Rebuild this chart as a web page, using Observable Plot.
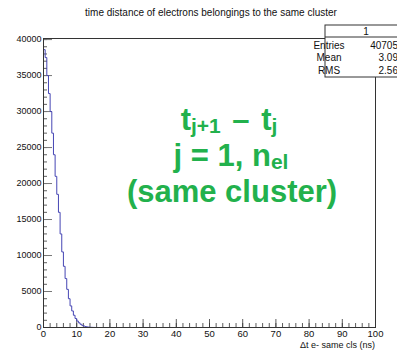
<!DOCTYPE html>
<html><head><meta charset="utf-8">
<script src="https://cdn.jsdelivr.net/npm/d3@7"></script>
<script src="https://cdn.jsdelivr.net/npm/@observablehq/plot@0.6"></script>
<style>body{margin:0;background:#fff} svg{display:block}</style>
</head><body><div id="chart"></div>
<script>
const title = "time distance of electrons belongings to the same cluster";
const xLabel = "\u0394t e- same cls (ns)";
// histogram bins (0.5 ns wide), start of each bin and counts
const binStarts = [0,0.5,1,1.5,2,2.5,3,3.5,4,4.5,5,5.5,6,6.5,7,7.5,8,8.5,9,9.5,10,10.5,11,11.5,12,12.5,13,13.5,14,14.5,15,15.5,16];
const counts = [38600,37500,35000,32500,30000,27000,24000,21000,18500,16000,13000,10500,8500,6800,5300,4000,3000,2300,1700,1250,900,650,450,300,200,130,80,50,30,18,10,5,2];
const binWidth = 0.5;
const xTicks = [0,10,20,30,40,50,60,70,80,90,100];
const xMinor = [0,2,4,6,8,10,12,14,16,18,20,22,24,26,28,30,32,34,36,38,40,42,44,46,48,50,52,54,56,58,60,62,64,66,68,70,72,74,76,78,80,82,84,86,88,90,92,94,96,98,100];
const yTicks = [0,5000,10000,15000,20000,25000,30000,35000,40000];
const yMinor = [0,1000,2000,3000,4000,5000,6000,7000,8000,9000,10000,11000,12000,13000,14000,15000,16000,17000,18000,19000,20000,21000,22000,23000,24000,25000,26000,27000,28000,29000,30000,31000,32000,33000,34000,35000,36000,37000,38000,39000,40000];
const statsName = "1";
const statsLabels = ["Entries","Mean","RMS"];
const statsValues = ["40705","3.09","2.56"];
const annColor = "#22b14c";

const W = 397, H = 350;
const mL = 43, mR = 22, mT = 38, mB = 23;
const fw = W - mL - mR, fh = H - mT - mB;

const pts = [{x: 0, y: 0}];
binStarts.forEach((s, i) => pts.push({x: s, y: counts[i]}));
pts.push({x: binStarts[binStarts.length-1] + binWidth, y: counts[counts.length-1]});
pts.push({x: binStarts[binStarts.length-1] + binWidth, y: 0});

const font = "Liberation Sans, Arial, Helvetica, sans-serif";
const plot = Plot.plot({
  width: W, height: H,
  marginLeft: mL, marginRight: mR, marginTop: mT, marginBottom: mB,
  style: {fontFamily: font, fontSize: "9px", background: "#fff", color: "#111"},
  x: {domain: [0, 100]},
  y: {domain: [0, 40150]},
  marks: [
    Plot.tickX(xMinor, {x: d => d, insetTop: fh - 4, stroke: "#333", strokeWidth: 0.8}),
    Plot.tickX(xTicks, {x: d => d, insetTop: fh - 8, stroke: "#333", strokeWidth: 0.8}),
    Plot.tickY(yMinor, {y: d => d, insetRight: fw - 4, stroke: "#333", strokeWidth: 0.8}),
    Plot.tickY(yTicks, {y: d => d, insetRight: fw - 9, stroke: "#777", strokeWidth: 1}),
    Plot.axisX(xTicks, {tickSize: 0, tickPadding: 3, label: null, fontSize: 9.5, tickFormat: d => String(d)}),
    Plot.axisY(yTicks, {tickSize: 0, tickPadding: 2, label: null, fontSize: 9, tickFormat: d => String(d)}),
    Plot.line(pts, {x: "x", y: "y", curve: "step-after", stroke: "#4646b4", strokeWidth: 1}),
    Plot.frame({stroke: "#333", strokeWidth: 1})
  ]
});
document.getElementById("chart").appendChild(plot);

const svg = d3.select(plot);
// title
svg.append("text").attr("x", 211).attr("y", 16).attr("text-anchor", "middle")
  .attr("font-family", font).attr("font-size", 10).attr("fill", "#111").text(title);
// x axis title
svg.append("text").attr("x", W - mR).attr("y", 348).attr("text-anchor", "end")
  .attr("font-family", font).attr("font-size", 9).attr("fill", "#111").text(xLabel);
// stats box
const sb = svg.append("g").attr("font-family", font).attr("font-size", 10).attr("fill", "#111");
const bx = 325, by = 25, bw = W - bx + 5, bh = 52;
sb.append("rect").attr("x", bx).attr("y", by).attr("width", bw).attr("height", bh)
  .attr("fill", "#fff").attr("stroke", "#333").attr("stroke-width", 1);
sb.append("line").attr("x1", bx).attr("x2", W).attr("y1", 37).attr("y2", 37).attr("stroke", "#333");
sb.append("text").attr("x", 366).attr("y", 34.5).attr("text-anchor", "middle").text(statsName);
statsLabels.forEach((l, i) => {
  sb.append("text").attr("x", 329).attr("y", 49 + i * 12.3).text(l);
  sb.append("text").attr("x", 398).attr("y", 49 + i * 12.3).attr("text-anchor", "end").text(statsValues[i]);
});
// annotation
const ann = svg.append("g").attr("fill", annColor).attr("font-weight", "bold")
  .attr("font-family", font).attr("text-anchor", "middle");
const big = 31, small = 21, sub = 3;
const l1 = ann.append("text").attr("x", 229).attr("y", 130).attr("font-size", big);
l1.append("tspan").text("t");
l1.append("tspan").attr("font-size", small).attr("dy", sub).text("j+1");
l1.append("tspan").attr("dy", -sub).attr("dx", 3).text(" \u2013");
l1.append("tspan").attr("dx", 3).text(" t");
l1.append("tspan").attr("font-size", small).attr("dy", sub).text("j");
const l2 = ann.append("text").attr("x", 231).attr("y", 166).attr("font-size", big);
l2.append("tspan").text("j = 1, n");
l2.append("tspan").attr("font-size", small).attr("dy", sub).text("el");
ann.append("text").attr("x", 232).attr("y", 202).attr("font-size", big).text("(same cluster)");
</script>
</body></html>
